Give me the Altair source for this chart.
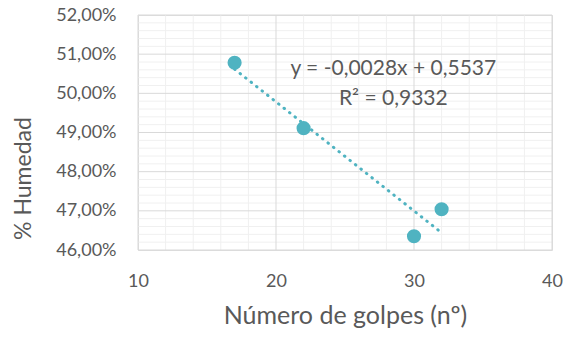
import altair as alt
import pandas as pd

# data
golpes = [17, 22, 30, 32]
humedad = [0.5078, 0.4911, 0.4635, 0.4704]
x_ticks = [10, 20, 30, 40]
y_ticks = [0.46, 0.47, 0.48, 0.49, 0.50, 0.51, 0.52]
x_minor = [v for v in range(10, 41, 2) if v % 10 != 0]
y_minor = [round(0.46 + i * 0.002, 3) for i in range(31) if i % 5 != 0]
eq_lines = ["y = -0,0028x + 0,5537", "R² = 0,9332"]
eq_x = [28.5, 28.5]
eq_y = [0.50625, 0.4986]

FONT = "Lato"
TXT = "#595959"
TEAL = "#4FB3C1"

pts = pd.DataFrame({"x": golpes, "y": humedad})
xs = alt.Scale(domain=[10, 40], nice=False, zero=False)
ys = alt.Scale(domain=[0.46, 0.52], nice=False, zero=False)

x_axis = alt.Axis(values=x_ticks, grid=False, ticks=False, domain=False,
                  labelFlush=False, labelOverlap=False,
                  labelFont=FONT, labelFontSize=18, labelColor=TXT, labelPadding=22,
                  title="Número de golpes (nº)", titleFont=FONT, titleFontSize=25,
                  titleFontWeight="normal", titleColor=TXT, titlePadding=13)
y_axis = alt.Axis(values=y_ticks, grid=False, ticks=False, domain=False,
                  labelFlush=False, labelOverlap=False, labelBound=False,
                  labelExpr="replace(format(datum.value, '.2%'), '.', ',')",
                  labelFont=FONT, labelFontSize=18, labelColor=TXT, labelPadding=22,
                  title="% Humedad", titleFont=FONT, titleFontSize=23,
                  titleFontWeight="normal", titleColor=TXT,
                  titleX=-115, titleY=163, titleBaseline="middle", titleAlign="center")


def X():
    return alt.X("x:Q", scale=xs, axis=x_axis)


def Y():
    return alt.Y("y:Q", scale=ys, axis=y_axis)


minor_v = alt.Chart(pd.DataFrame({"x": x_minor})).mark_rule(color="#F0F0F0", strokeWidth=1).encode(x=X())
minor_h = alt.Chart(pd.DataFrame({"y": y_minor})).mark_rule(color="#F0F0F0", strokeWidth=1).encode(y=Y())
major_v = alt.Chart(pd.DataFrame({"x": x_ticks})).mark_rule(color="#D9D9D9", strokeWidth=1).encode(x=X())
major_h = alt.Chart(pd.DataFrame({"y": y_ticks})).mark_rule(color="#D9D9D9", strokeWidth=1).encode(y=Y())

trend = alt.Chart(pts).transform_regression("x", "y").mark_line(
    color=TEAL, strokeWidth=3, strokeDash=[0.5, 6.5], strokeCap="round").encode(x=X(), y=Y())

points = alt.Chart(pts).mark_circle(color=TEAL, size=200, opacity=1).encode(x=X(), y=Y())

eq = alt.Chart(pd.DataFrame({"t": eq_lines, "x": eq_x, "y": eq_y})).mark_text(
    font=FONT, fontSize=21, color=TXT, align="center", baseline="middle").encode(
    x=X(), y=Y(), text="t:N")

chart = alt.layer(minor_v, minor_h, major_v, major_h, trend, points, eq).properties(
    width=414, height=235,
    autosize=alt.AutoSizeParams(type="none"),
    padding={"left": 138, "top": 15, "right": 14, "bottom": 88},
).configure_view(stroke=None).configure(background="white")

chart.save("out.html", embed_options={"renderer": "svg", "actions": False})
